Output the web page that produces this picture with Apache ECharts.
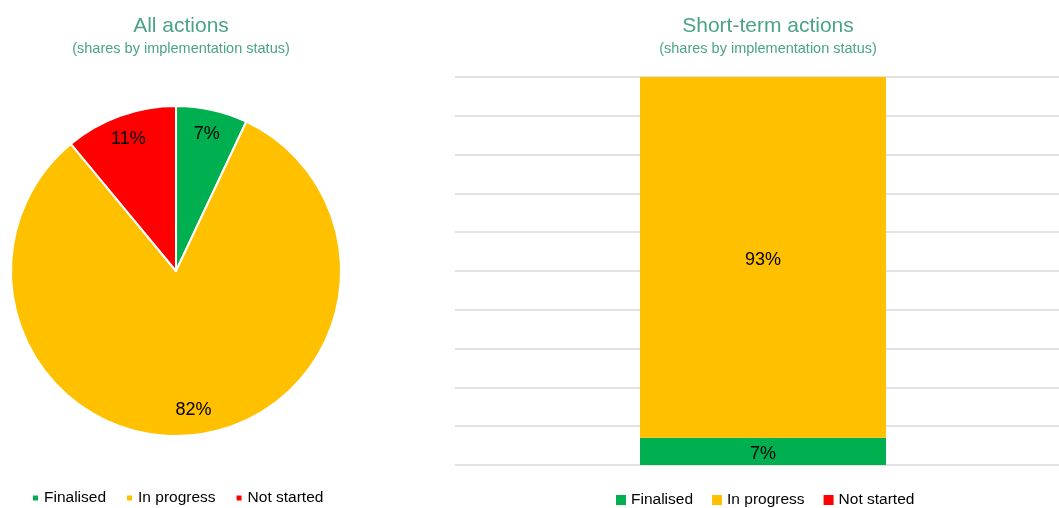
<!DOCTYPE html>
<html>
<head>
<meta charset="utf-8">
<script src="https://cdn.jsdelivr.net/npm/echarts@6/dist/echarts.min.js"></script>
<style>
  html, body { margin: 0; padding: 0; background: #fff; }
  #chart { width: 1059px; height: 508px; }
</style>
</head>
<body>
<div id="chart"></div>
<script>
// data
const statuses = ['Finalised', 'In progress', 'Not started'];
const allShares = [7, 82, 11];          // pie, all actions (%)
const shortTermShares = [7, 93, 0];     // stacked bar, short-term actions (%)
const barCategories = ['Short-term actions'];
const yTicks = [0, 10, 20, 30, 40, 50, 60, 70, 80, 90, 100];

const colors = ['#00b050', '#ffc000', '#ff0000'];
const titleColor = '#4aa387';
const font = 'Liberation Sans, Arial, sans-serif';

const myChart = echarts.init(document.getElementById('chart'));

const pieData = statuses.map((name, i) => ({
  name: name,
  value: allShares[i],
  itemStyle: { color: colors[i] }
}));

const option = {
  animation: false,
  textStyle: { fontFamily: font },
  title: [
    {
      text: 'All actions',
      subtext: '(shares by implementation status)',
      left: 176, top: 11, textAlign: 'center', itemGap: 4,
      textStyle: { color: titleColor, fontSize: 21, fontWeight: 'normal', fontFamily: font },
      subtextStyle: { color: titleColor, fontSize: 14.5, fontFamily: font }
    },
    {
      text: 'Short-term actions',
      subtext: '(shares by implementation status)',
      left: 763, top: 11, textAlign: 'center', itemGap: 4,
      textStyle: { color: titleColor, fontSize: 21, fontWeight: 'normal', fontFamily: font },
      subtextStyle: { color: titleColor, fontSize: 14.5, fontFamily: font }
    }
  ],
  legend: [
    {
      data: statuses,
      left: 31, top: 490, padding: 0,
      icon: 'rect', itemWidth: 7, itemHeight: 7, itemGap: 19,
      textStyle: { fontSize: 15.5, color: '#000', fontFamily: font },
      selectedMode: false
    },
    {
      data: statuses.map(s => s + ' '),
      left: 616, top: 492, padding: 0,
      icon: 'rect', itemWidth: 10, itemHeight: 10, itemGap: 19,
      formatter: n => n.trim(),
      textStyle: { fontSize: 15.5, color: '#000', fontFamily: font },
      selectedMode: false
    }
  ],
  grid: { left: 455, right: -12, top: 77, bottom: 43, outerBoundsMode: 'none' },
  xAxis: {
    type: 'category',
    data: barCategories,
    axisLine: { show: false },
    axisTick: { show: false },
    axisLabel: { show: false }
  },
  yAxis: {
    type: 'value',
    min: yTicks[0], max: yTicks[yTicks.length - 1], interval: 10,
    axisLabel: { show: false },
    axisLine: { show: false },
    axisTick: { show: false },
    splitLine: { lineStyle: { color: '#d9d9d9', width: 1.5 } }
  },
  series: [
    {
      type: 'pie',
      center: [176, 271],
      radius: 165,
      startAngle: 90,
      clockwise: true,
      legendHoverLink: false,
      itemStyle: { borderColor: '#fff', borderWidth: 2 },
      label: { show: false },
      labelLine: { show: false },
      data: pieData
    },
    {
      // label ring, places the % labels nearer the rim
      type: 'pie',
      center: [176, 271],
      radius: [110, 165],
      startAngle: 90,
      silent: true,
      legendHoverLink: false,
      itemStyle: { color: 'rgba(0,0,0,0)' },
      label: {
        show: true, position: 'inside',
        formatter: p => p.value + '%',
        color: '#000', fontSize: 18, fontFamily: font
      },
      labelLine: { show: false },
      data: statuses.map((name, i) => ({ name: name + '  ', value: allShares[i] }))
    }
  ].concat(statuses.map((name, i) => ({
    type: 'bar',
    name: name + ' ',
    stack: 'short',
    barWidth: 246,
    itemStyle: { color: colors[i] },
    label: {
      show: true, position: 'inside',
      formatter: p => (p.value > 0 ? p.value + '%' : ''),
      color: '#000', fontSize: 18, fontFamily: font,
      offset: [0, 3]
    },
    data: [shortTermShares[i]]
  })))
};

myChart.setOption(option);
</script>
</body>
</html>
